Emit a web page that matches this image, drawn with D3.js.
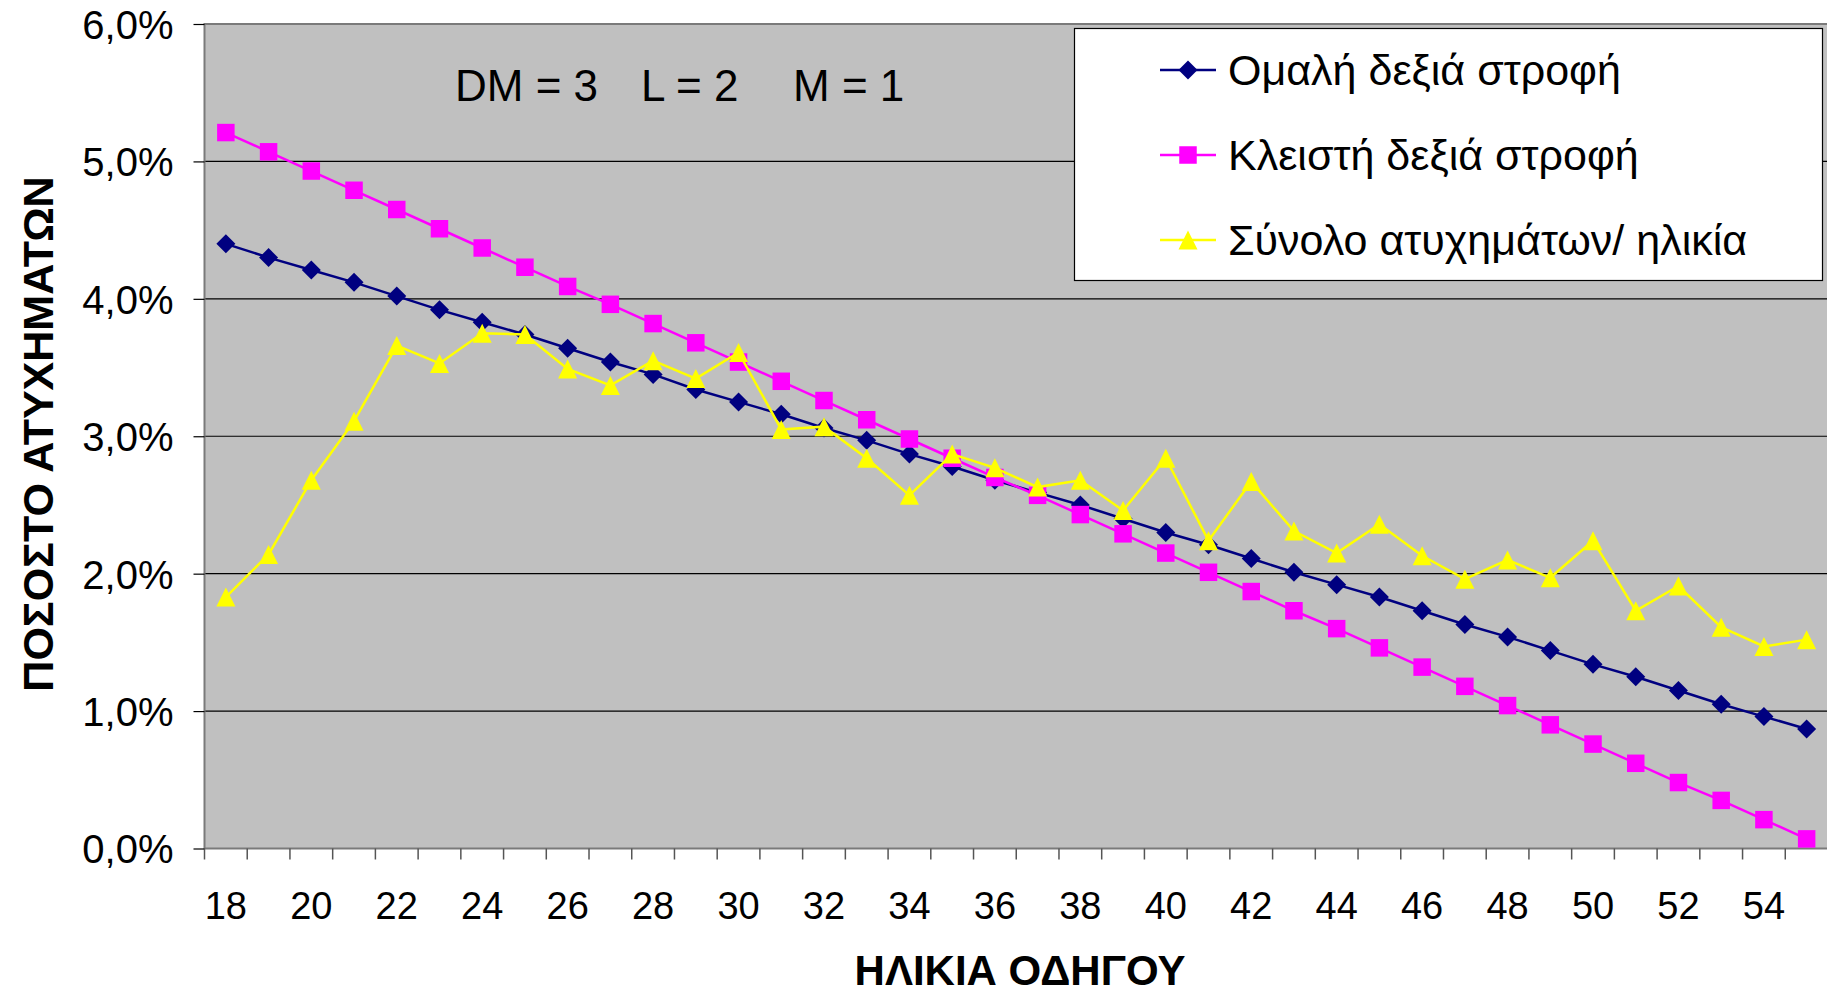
<!DOCTYPE html>
<html lang="el">

<head>
    <meta charset="UTF-8">
    <meta name="viewport" content="width=device-width, initial-scale=1.0">
    <script src="https://cdn.jsdelivr.net/npm/d3@7"></script>
    <title>Ποσοστό ατυχημάτων ανά ηλικία</title>
    <style>
        body {
            margin: 0;
            background: white;
        }

        svg {
            display: block;
            font-family: Arial, "Liberation Sans", sans-serif;
        }

        .ylabels text {
            font-size: 40px;
        }

        .xlabels text {
            font-size: 38px;
        }

        .axis-title {
            font-weight: bold;
        }
    </style>
</head>

<body>
    <div id="chart"></div>

    <script>
        /*------------------- data --------------------*/
        const ages = [18, 19, 20, 21, 22, 23, 24, 25, 26, 27, 28, 29, 30, 31, 32, 33, 34, 35, 36,
            37, 38, 39, 40, 41, 42, 43, 44, 45, 46, 47, 48, 49, 50, 51, 52, 53, 54, 55];

        // Ομαλή δεξιά στροφή (%)
        const smoothRight = [4.40, 4.30, 4.21, 4.12, 4.02, 3.92, 3.83, 3.74, 3.64, 3.54, 3.45, 3.34,
            3.25, 3.16, 3.06, 2.97, 2.87, 2.78, 2.68, 2.59, 2.50, 2.40, 2.30, 2.21, 2.11, 2.01, 1.92,
            1.83, 1.73, 1.63, 1.54, 1.44, 1.34, 1.25, 1.15, 1.05, 0.96, 0.87];

        // Κλειστή δεξιά στροφή (%)
        const sharpRight = [5.21, 5.07, 4.93, 4.79, 4.65, 4.51, 4.37, 4.23, 4.09, 3.96, 3.82, 3.68,
            3.54, 3.40, 3.26, 3.12, 2.98, 2.84, 2.70, 2.57, 2.43, 2.29, 2.15, 2.01, 1.87, 1.73, 1.60,
            1.46, 1.32, 1.18, 1.04, 0.90, 0.76, 0.62, 0.48, 0.35, 0.21, 0.07];

        // Σύνολο ατυχημάτων/ ηλικία (%)
        const totalByAge = [1.83, 2.14, 2.68, 3.11, 3.66, 3.53, 3.75, 3.74, 3.49, 3.37, 3.55, 3.42,
            3.61, 3.05, 3.07, 2.84, 2.57, 2.87, 2.77, 2.63, 2.68, 2.46, 2.84, 2.24, 2.67, 2.31, 2.15,
            2.36, 2.13, 1.96, 2.10, 1.97, 2.24, 1.73, 1.91, 1.61, 1.47, 1.52];

        const seriesNames = ["Ομαλή δεξιά στροφή", "Κλειστή δεξιά στροφή", "Σύνολο ατυχημάτων/ ηλικία"];
        const seriesColors = ["#000080", "#FF00FF", "#FFFF00"];
        const yTicks = [0, 1, 2, 3, 4, 5, 6];
        const xLabelAges = [18, 20, 22, 24, 26, 28, 30, 32, 34, 36, 38, 40, 42, 44, 46, 48, 50, 52, 54];
        const noteParts = ["DM = 3", "L = 2", "M = 1"];

        /*------------------- layout --------------------*/
        const width = 1827, height = 995;
        const plot = { left: 204.5, top: 24, right: 1828, bottom: 848.5 };

        const svg = d3.select("#chart").append("svg")
            .attr("width", width)
            .attr("height", height);

        const x = d3.scaleBand()
            .domain(ages)
            .range([plot.left, plot.right])
            .padding(0);

        const y = d3.scaleLinear()
            .domain([0, 6])
            .range([plot.bottom, plot.top]);

        const cx = a => x(a) + x.bandwidth() / 2;

        // greek number format: 6,0%
        const grLocale = d3.formatLocale({ decimal: ",", thousands: ".", grouping: [3], currency: ["", "€"] });
        const fmtPct = v => grLocale.format(".1f")(v) + "%";

        /*------------------- plot area --------------------*/
        svg.append("rect")
            .attr("x", plot.left)
            .attr("y", plot.top)
            .attr("width", plot.right - plot.left)
            .attr("height", plot.bottom - plot.top)
            .attr("fill", "#C0C0C0");

        // gridlines
        svg.append("g")
            .selectAll("line")
            .data(yTicks.filter(t => t > 0 && t < 6))
            .join("line")
            .attr("x1", plot.left)
            .attr("x2", plot.right)
            .attr("y1", d => y(d))
            .attr("y2", d => y(d))
            .attr("stroke", "#000")
            .attr("stroke-width", 1.2);

        // border (top + left + bottom)
        svg.append("path")
            .attr("d", `M${plot.right},${plot.top}H${plot.left}V${plot.bottom}H${plot.right}`)
            .attr("fill", "none")
            .attr("stroke", "#7a7a7a")
            .attr("stroke-width", 2);

        /*------------------- axes --------------------*/
        const yAxis = svg.append("g")
            .attr("class", "ylabels")
            .attr("transform", `translate(${plot.left},0)`)
            .call(d3.axisLeft(y).tickValues(yTicks).tickFormat(fmtPct).tickSize(11).tickPadding(20));
        yAxis.select(".domain").remove();
        yAxis.selectAll("line").attr("stroke", "#000").attr("stroke-width", 1.2);
        yAxis.selectAll("text").attr("fill", "#000").attr("dy", "0.36em");

        // tick marks between categories
        const boundaries = ages.map(a => x(a)).concat([x(ages[ages.length - 1]) + x.bandwidth()]);
        svg.append("g")
            .selectAll("line")
            .data(boundaries)
            .join("line")
            .attr("x1", d => d)
            .attr("x2", d => d)
            .attr("y1", plot.bottom)
            .attr("y2", plot.bottom + 11)
            .attr("stroke", "#555")
            .attr("stroke-width", 1.5);

        const xAxis = svg.append("g")
            .attr("class", "xlabels")
            .attr("transform", `translate(0,${plot.bottom})`)
            .call(d3.axisBottom(x).tickValues(xLabelAges).tickSize(0).tickPadding(44));
        xAxis.select(".domain").remove();
        xAxis.selectAll("text").attr("fill", "#000");

        // axis titles
        svg.append("text")
            .attr("class", "axis-title")
            .attr("transform", "translate(37.5,434) rotate(-90)")
            .attr("text-anchor", "middle")
            .attr("dy", "0.36em")
            .style("font-size", "43px")
            .text("ΠΟΣΟΣΤΟ ΑΤΥΧΗΜΑΤΩΝ");

        svg.append("text")
            .attr("class", "axis-title")
            .attr("x", 1020)
            .attr("y", 985)
            .attr("text-anchor", "middle")
            .style("font-size", "42px")
            .text("ΗΛΙΚΙΑ ΟΔΗΓΟΥ");

        // DM / L / M note
        svg.append("g")
            .selectAll("text")
            .data(noteParts)
            .join("text")
            .attr("x", (d, i) => [455, 641, 793][i])
            .attr("y", 101)
            .style("font-size", "44px")
            .text(d => d);

        /*------------------- series --------------------*/
        const diamond = {
            draw(ctx, size) {
                const r = Math.sqrt(size) / 2;
                ctx.moveTo(0, -r); ctx.lineTo(r, 0); ctx.lineTo(0, r); ctx.lineTo(-r, 0); ctx.closePath();
            }
        };
        const square = {
            draw(ctx, size) {
                const r = Math.sqrt(size) / 2;
                ctx.rect(-r, -r, 2 * r, 2 * r);
            }
        };
        const triangle = {
            draw(ctx, size) {
                const r = Math.sqrt(size) / 2;
                ctx.moveTo(0, -r); ctx.lineTo(r, r); ctx.lineTo(-r, r); ctx.closePath();
            }
        };
        const symbols = [d3.symbol(diamond, 19 * 19), d3.symbol(square, 17.5 * 17.5), d3.symbol(triangle, 19 * 19)];
        const allSeries = [smoothRight, sharpRight, totalByAge];

        const line = d3.line()
            .x(d => cx(d.age))
            .y(d => y(d.v));

        allSeries.forEach((vals, i) => {
            const pts = ages.map((a, j) => ({ age: a, v: vals[j] }));
            const g = svg.append("g");
            g.append("path")
                .datum(pts)
                .attr("d", line)
                .attr("fill", "none")
                .attr("stroke", seriesColors[i])
                .attr("stroke-width", 2.5);
            g.selectAll("path.mark")
                .data(pts)
                .join("path")
                .attr("class", "mark")
                .attr("d", symbols[i])
                .attr("transform", d => `translate(${cx(d.age)},${y(d.v)})`)
                .attr("fill", seriesColors[i]);
        });

        /*------------------- legend --------------------*/
        const legend = svg.append("g");
        legend.append("rect")
            .attr("x", 1074.5)
            .attr("y", 28.5)
            .attr("width", 748)
            .attr("height", 252)
            .attr("fill", "white")
            .attr("stroke", "#000")
            .attr("stroke-width", 1.2);

        const rowY = d3.scalePoint().domain(seriesNames).range([70, 240]);
        seriesNames.forEach((name, i) => {
            const ly = rowY(name);
            legend.append("line")
                .attr("x1", 1160).attr("x2", 1216)
                .attr("y1", ly).attr("y2", ly)
                .attr("stroke", seriesColors[i])
                .attr("stroke-width", 2.5);
            legend.append("path")
                .attr("d", symbols[i])
                .attr("transform", `translate(1188,${ly})`)
                .attr("fill", seriesColors[i]);
            legend.append("text")
                .attr("x", 1228)
                .attr("y", ly)
                .attr("dy", "0.36em")
                .style("font-size", "43px")
                .text(name);
        });
    </script>
</body>

</html>
